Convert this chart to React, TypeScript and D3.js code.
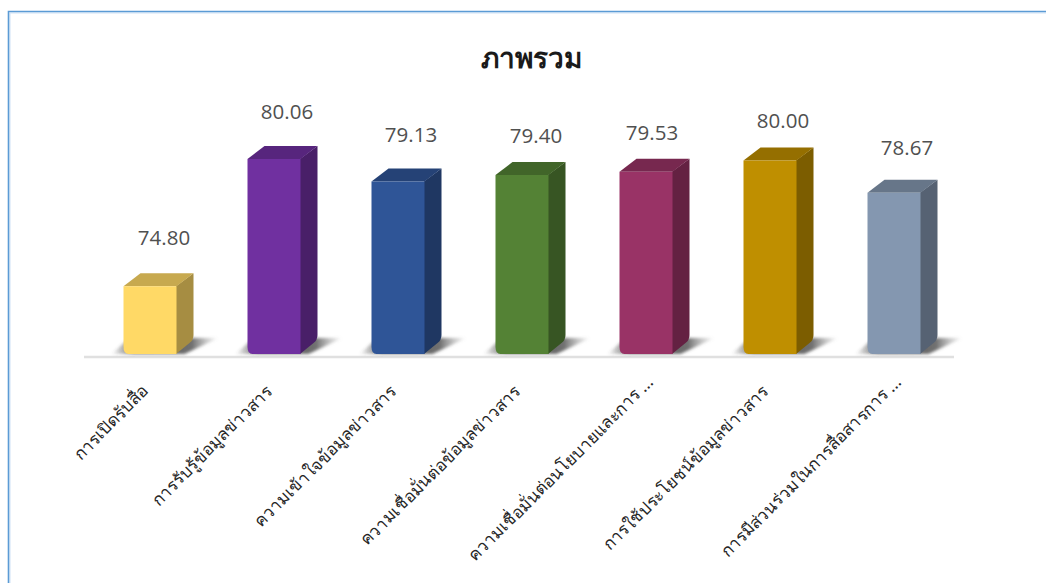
import React from "react";
import * as d3 from "d3";

const categories = [
  "การเปิดรับสื่อ",
  "การรับรู้ข้อมูลข่าวสาร",
  "ความเข้าใจข้อมูลข่าวสาร",
  "ความเชื่อมั่นต่อข้อมูลข่าวสาร",
  "ความเชื่อมั่นต่อนโยบายและการ ...",
  "การใช้ประโยชน์ข้อมูลข่าวสาร",
  "การมีส่วนร่วมในการสื่อสารการ ...",
];
const values = [74.8, 80.06, 79.13, 79.4, 79.53, 80.0, 78.67];
const frontColors = ["#FFD966", "#7030A0", "#2F5597", "#548235", "#993366", "#BF8F00", "#8497B0"];
const title = "ภาพรวม";

// hand-placed offset of each value label relative to its bar
const labelGaps = [41, 40, 40, 32, 32, 32, 38];
const labelShifts = [14, 13, 13, 14, 6, 13, 13];

const W = 1046, H = 583, BASE = 354, DX = 17, DY = 13;
const thai = "'Noto Sans', 'Noto Sans CJK SC', 'DejaVu Sans', sans-serif";

export default function App() {
  const x = d3.scaleBand<string>().domain(categories).range([88, 956]).paddingInner(71 / 124).paddingOuter(35.5 / 124);
  const y = d3.scaleLinear().domain([72, 80.06]).range([BASE, 159]);
  const bw = x.bandwidth();
  return (
    <svg width={W} height={H} style={{ position: "absolute", left: 0, top: 0, background: "#fff" }}>
      <defs>
        <linearGradient id="sh" x1="0" x2="1" y1="0" y2="0">
          <stop offset="0" stopColor="#444" stopOpacity="0" />
          <stop offset="0.22" stopColor="#444" stopOpacity="0.85" />
          <stop offset="0.75" stopColor="#555" stopOpacity="0.85" />
          <stop offset="1" stopColor="#888" stopOpacity="0" />
        </linearGradient>
        <filter id="bl" x="-20%" y="-50%" width="140%" height="200%"><feGaussianBlur stdDeviation="1.8" /></filter>
      </defs>
      <path d="M10 583V13H1046" fill="none" stroke="#CFE2F5" strokeWidth={1} />
      <path d="M8.5 583V11.5H1046" fill="none" stroke="#5B9BD5" strokeWidth={1.6} />
      <text x={531.5} y={68} textAnchor="middle" fontFamily={thai} fontWeight={700} fontSize={28} fill="#1a1a1a">{title}</text>
      <line x1={84} x2={954} y1={357} y2={357} stroke="#E0E0E0" strokeWidth={2.5} />
      {categories.map((c, i) => {
        const x0 = x(c)!;
        const x1 = x0 + bw;
        const top = y(values[i]);
        const col = d3.rgb(frontColors[i]);
        const dark = col.darker(1.2).toString();
        const mid = col.darker(0.7).toString();
        const trunc = c.endsWith("...") ? 9 : 0;
        return (
          <g key={c}>
            <path d={`M${x0 - 12} ${BASE}L${x0 + 6} ${BASE - 16}H${x1 + DX + 25}L${x1 + 8} ${BASE}Z`} fill="url(#sh)" filter="url(#bl)" />
            <path d={`M${x1 - 0.5} ${top}l${DX + 0.5} ${-DY}V${BASE - DY - 6}q0 5 -4 8L${x1 - 0.5} ${BASE}Z`} fill={dark} />
            <path d={`M${x0} ${top}l${DX} ${-DY}H${x1 + DX}l${-DX} ${DY}Z`} fill={mid} />
            <path d={`M${x0} ${top}H${x1}V${BASE}H${x0 + 5}Q${x0} ${BASE} ${x0} ${BASE - 7}Z`} fill={frontColors[i]} />
            <text x={x0 + bw / 2 + labelShifts[i]} y={top - labelGaps[i]} textAnchor="middle" fontFamily="'Open Sans', 'Noto Sans', sans-serif" fontSize={20.5} fill="#505050">{values[i].toFixed(2)}</text>
            <text transform={`translate(${x0 + bw / 2 - 4 + trunc},${389 - trunc}) rotate(-45)`} textAnchor="end" fontFamily={thai} fontSize={17} fill="#262626" dominantBaseline="middle">{c}</text>
          </g>
        );
      })}
    </svg>
  );
}
